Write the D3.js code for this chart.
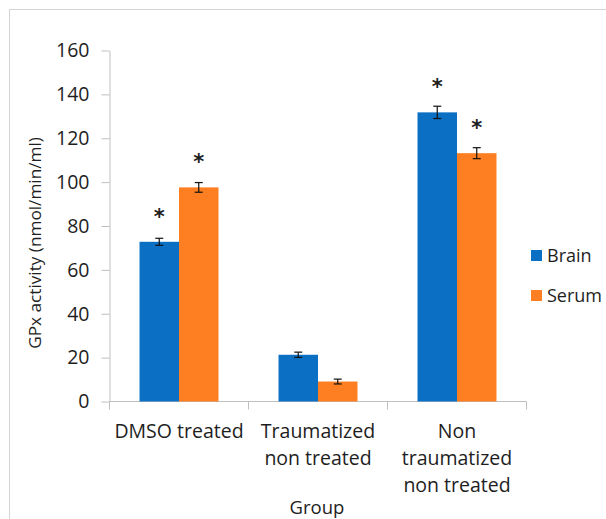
<!DOCTYPE html>
<html>
<head>
<meta charset="utf-8">
<script src="https://cdn.jsdelivr.net/npm/d3@7"></script>
<style>
  body { margin: 0; background: #fff; }
  text { font-family: "Open Sans", "Noto Sans", sans-serif; fill: #1e1e1e; }
</style>
</head>
<body>
<div id="chart"></div>
<script>
// data
const groups = ["DMSO treated", "Traumatized non treated", "Non traumatized non treated"];
const groupLines = [["DMSO treated"], ["Traumatized", "non treated"], ["Non", "traumatized", "non treated"]];
const seriesNames = ["Brain", "Serum"];
const brain = [72.8, 21.3, 131.8];
const serum = [97.6, 9.1, 113.2];
const brainErr = [1.6, 1.2, 2.8];
const serumErr = [2.2, 1.1, 2.5];
const brainSig = [true, false, true];
const serumSig = [true, false, true];
const yTicks = [0, 20, 40, 60, 80, 100, 120, 140, 160];
const colors = ["#0b70c4", "#fd7f22"];

const data = groups.map((g, i) => ({
  group: g,
  lines: groupLines[i],
  vals: [
    { s: seriesNames[0], v: brain[i], e: brainErr[i], sig: brainSig[i] },
    { s: seriesNames[1], v: serum[i], e: serumErr[i], sig: serumSig[i] },
  ],
}));

const W = 606, H = 519;
const svg = d3.select("#chart").append("svg")
  .attr("width", W).attr("height", H);

// chart frame (cut by the crop on right / bottom)
svg.append("rect")
  .attr("x", 9.5).attr("y", 9.5)
  .attr("width", W + 20).attr("height", H + 20)
  .attr("fill", "#fff").attr("stroke", "#d4d4d4");

const pLeft = 109.5, pRight = 526.5, pTop = 50.5, pBottom = 401.5;

const y = d3.scaleLinear().domain([0, 160]).range([pBottom, pTop]);
const x0 = d3.scaleBand().domain(groups).range([pLeft, pRight]).padding(0);
const x1 = d3.scaleBand().domain(seriesNames)
  .range([0, x0.bandwidth()]).paddingInner(0).paddingOuter(0.76);

// y axis
const yAxis = svg.append("g")
  .attr("transform", `translate(${pLeft},0)`)
  .call(d3.axisLeft(y).tickValues(yTicks).tickSize(8).tickSizeOuter(0).tickPadding(12));
yAxis.select(".domain").attr("stroke", "#bfbfbf");
yAxis.selectAll(".tick line").attr("stroke", "#bfbfbf");
yAxis.selectAll(".tick text")
  .attr("font-size", 19.5).attr("fill", "#1e1e1e")
  .style("font-family", "'Open Sans', sans-serif");

// x axis line + category separators
const xAxis = svg.append("g").attr("transform", `translate(0,${pBottom})`);
xAxis.append("line")
  .attr("x1", pLeft).attr("x2", pRight)
  .attr("stroke", "#bfbfbf");
xAxis.selectAll("line.sep")
  .data(groups.map((g) => x0(g)).concat([pRight]))
  .join("line")
  .attr("class", "sep")
  .attr("x1", (d) => d).attr("x2", (d) => d)
  .attr("y1", 0).attr("y2", 8)
  .attr("stroke", "#bfbfbf");

// bars
const g = svg.selectAll("g.grp")
  .data(data)
  .join("g")
  .attr("class", "grp")
  .attr("transform", (d) => `translate(${x0(d.group)},0)`);

g.selectAll("rect")
  .data((d) => d.vals)
  .join("rect")
  .attr("x", (d) => x1(d.s))
  .attr("y", (d) => y(d.v))
  .attr("width", x1.bandwidth())
  .attr("height", (d) => y(0) - y(d.v))
  .attr("fill", (d, i) => colors[i]);

// error bars
const cap = 4;
const eb = g.selectAll("g.err")
  .data((d) => d.vals)
  .join("g")
  .attr("class", "err")
  .attr("stroke", "#111")
  .attr("stroke-width", 1.2);
eb.append("line")
  .attr("x1", (d) => x1(d.s) + x1.bandwidth() / 2)
  .attr("x2", (d) => x1(d.s) + x1.bandwidth() / 2)
  .attr("y1", (d) => y(d.v + d.e))
  .attr("y2", (d) => y(d.v - d.e));
eb.append("line")
  .attr("x1", (d) => x1(d.s) + x1.bandwidth() / 2 - cap)
  .attr("x2", (d) => x1(d.s) + x1.bandwidth() / 2 + cap)
  .attr("y1", (d) => y(d.v + d.e))
  .attr("y2", (d) => y(d.v + d.e));
eb.append("line")
  .attr("x1", (d) => x1(d.s) + x1.bandwidth() / 2 - cap)
  .attr("x2", (d) => x1(d.s) + x1.bandwidth() / 2 + cap)
  .attr("y1", (d) => y(d.v - d.e))
  .attr("y2", (d) => y(d.v - d.e));

// significance stars
g.selectAll("text.star")
  .data((d) => d.vals.filter((v) => v.sig))
  .join("text")
  .attr("class", "star")
  .attr("x", (d) => x1(d.s) + x1.bandwidth() / 2)
  .attr("y", (d) => y(d.v) - 30 + 12)
  .attr("text-anchor", "middle")
  .attr("font-size", 21)
  .attr("font-weight", "bold")
  .style("font-family", "'DejaVu Sans', sans-serif")
  .text("*");

// category labels
svg.selectAll("text.cat")
  .data(data)
  .join("text")
  .attr("class", "cat")
  .attr("text-anchor", "middle")
  .attr("font-size", 19.5)
  .attr("x", (d) => x0(d.group) + x0.bandwidth() / 2)
  .attr("y", 438)
  .selectAll("tspan")
  .data((d) => d.lines.map((l) => ({ l, x: x0(d.group) + x0.bandwidth() / 2 })))
  .join("tspan")
  .attr("x", (d) => d.x)
  .attr("dy", (d, i) => (i === 0 ? 0 : 26.8))
  .text((d) => d.l);

// axis titles
svg.append("text")
  .attr("text-anchor", "middle")
  .attr("font-size", 17.2)
  .attr("transform", "translate(41,243) rotate(-90)")
  .text("GPx activity (nmol/min/ml)");

svg.append("text")
  .attr("text-anchor", "middle")
  .attr("font-size", 18.5)
  .attr("x", 317)
  .attr("y", 514)
  .text("Group");

// legend
const legend = svg.selectAll("g.leg")
  .data(seriesNames)
  .join("g")
  .attr("class", "leg")
  .attr("transform", (d, i) => `translate(531,${250 + i * 40})`);
legend.append("rect")
  .attr("width", 11).attr("height", 11)
  .attr("fill", (d, i) => colors[i]);
legend.append("text")
  .attr("x", 16).attr("y", 12)
  .attr("font-size", 18)
  .text((d) => d);
</script>
</body>
</html>
